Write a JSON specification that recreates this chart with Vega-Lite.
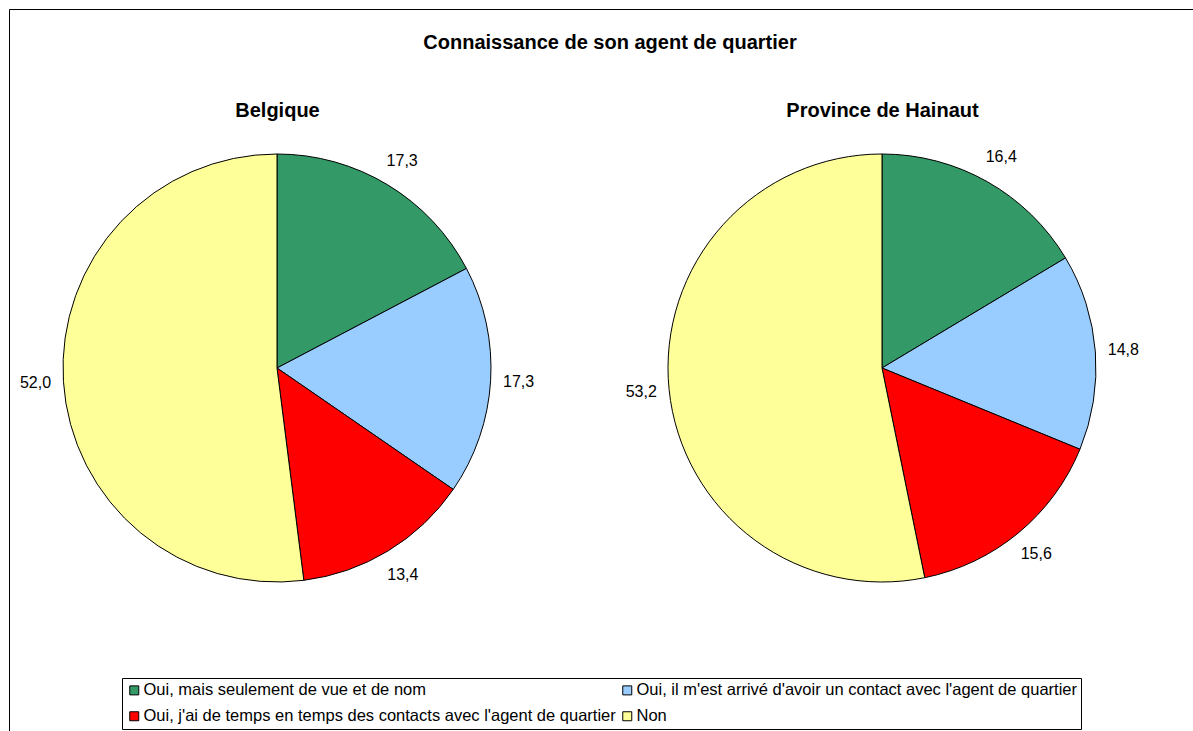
{
  "$schema": "https://vega.github.io/schema/vega-lite/v6.json",
  "width": 1202,
  "height": 740,
  "autosize": "none",
  "padding": {"left": 9, "top": 9, "right": 0, "bottom": 0},
  "background": "white",
  "config": {
    "view": {"stroke": "black", "strokeWidth": 1},
    "font": "Liberation Sans",
    "locale": {"number": {"decimal": ",", "thousands": ".", "grouping": [3], "currency": ["", " €"]}}
  },
  "title": {
    "text": "Connaissance de son agent de quartier",
    "fontSize": 20,
    "fontWeight": "bold",
    "font": "Liberation Sans",
    "color": "black",
    "anchor": "middle",
    "baseline": "alphabetic",
    "offset": -60
  },
  "data": {
    "values": [
      {"region": "Belgique", "cat": "Oui, mais seulement de vue et de nom", "ord": 1, "value": 17.3},
      {"region": "Belgique", "cat": "Oui, il m'est arrivé d'avoir un contact avec l'agent de quartier", "ord": 2, "value": 17.3},
      {"region": "Belgique", "cat": "Oui, j'ai de temps en temps des contacts avec l'agent de quartier", "ord": 3, "value": 13.4},
      {"region": "Belgique", "cat": "Non", "ord": 4, "value": 52.0},
      {"region": "Province de Hainaut", "cat": "Oui, mais seulement de vue et de nom", "ord": 1, "value": 16.4},
      {"region": "Province de Hainaut", "cat": "Oui, il m'est arrivé d'avoir un contact avec l'agent de quartier", "ord": 2, "value": 14.8},
      {"region": "Province de Hainaut", "cat": "Oui, j'ai de temps en temps des contacts avec l'agent de quartier", "ord": 3, "value": 15.6},
      {"region": "Province de Hainaut", "cat": "Non", "ord": 4, "value": 53.2}
    ]
  },
  "encoding": {
    "x": {
      "field": "region",
      "type": "nominal",
      "scale": {"type": "point", "domain": ["Belgique", "Province de Hainaut"], "range": [268, 873], "padding": 0},
      "axis": {
        "orient": "top",
        "title": null,
        "domain": false,
        "ticks": false,
        "grid": false,
        "labelFontSize": 20,
        "labelFontWeight": "bold",
        "labelColor": "black",
        "labelFont": "Liberation Sans",
        "labelAngle": 0,
        "labelBaseline": "alphabetic",
        "labelPadding": 0,
        "labelLimit": 400,
        "offset": -107
      }
    },
    "y": {
      "field": "region",
      "type": "nominal",
      "scale": {"type": "point", "domain": ["Belgique", "Province de Hainaut"], "range": [359, 359], "padding": 0},
      "axis": null
    },
    "order": {"field": "ord", "type": "quantitative"}
  },
  "layer": [
    {
      "transform": [{"filter": {"field": "region", "equal": "Belgique"}}],
      "mark": {"type": "arc", "outerRadius": 214, "stroke": "black", "strokeWidth": 1},
      "encoding": {
        "theta": {"field": "value", "type": "quantitative", "stack": true, "scale": {"domain": [0, 100]}},
        "color": {
          "field": "cat",
          "type": "nominal",
          "scale": {
            "domain": ["Oui, mais seulement de vue et de nom", "Oui, il m'est arrivé d'avoir un contact avec l'agent de quartier", "Oui, j'ai de temps en temps des contacts avec l'agent de quartier", "Non"],
            "range": ["#339966", "#99CCFF", "#FF0000", "#FFFF99"]
          },
          "legend": {
            "title": null,
            "orient": "none",
            "legendX": 113,
            "legendY": 669,
            "direction": "horizontal",
            "columns": 2,
            "symbolType": "square",
            "symbolSize": 81,
            "symbolStrokeColor": "black",
            "symbolStrokeWidth": 1,
            "symbolOpacity": 1,
            "labelFontSize": 16.5,
            "labelFont": "Liberation Sans",
            "labelColor": "black",
            "labelLimit": 700,
            "labelOffset": 1,
            "strokeColor": "black",
            "fillColor": "white",
            "padding": 4,
            "rowPadding": 9,
            "columnPadding": 3
          }
        }
      }
    },
    {
      "transform": [{"filter": {"field": "region", "equal": "Province de Hainaut"}}],
      "mark": {"type": "arc", "outerRadius": 214, "stroke": "black", "strokeWidth": 1},
      "encoding": {
        "theta": {"field": "value", "type": "quantitative", "stack": true, "scale": {"domain": [0, 100]}},
        "color": {"field": "cat", "type": "nominal"}
      }
    },
    {
      "transform": [{"filter": {"field": "region", "equal": "Belgique"}}],
      "mark": {"type": "text", "radius": 242, "fontSize": 16, "font": "Liberation Sans", "color": "black", "align": "center", "baseline": "middle"},
      "encoding": {
        "theta": {"field": "value", "type": "quantitative", "stack": true},
        "detail": {"field": "cat", "type": "nominal"},
        "text": {"field": "value", "type": "quantitative", "format": ".1f"}
      }
    },
    {
      "transform": [{"filter": {"field": "region", "equal": "Province de Hainaut"}}],
      "mark": {"type": "text", "radius": 242, "fontSize": 16, "font": "Liberation Sans", "color": "black", "align": "center", "baseline": "middle"},
      "encoding": {
        "theta": {"field": "value", "type": "quantitative", "stack": true},
        "detail": {"field": "cat", "type": "nominal"},
        "text": {"field": "value", "type": "quantitative", "format": ".1f"}
      }
    }
  ]
}
